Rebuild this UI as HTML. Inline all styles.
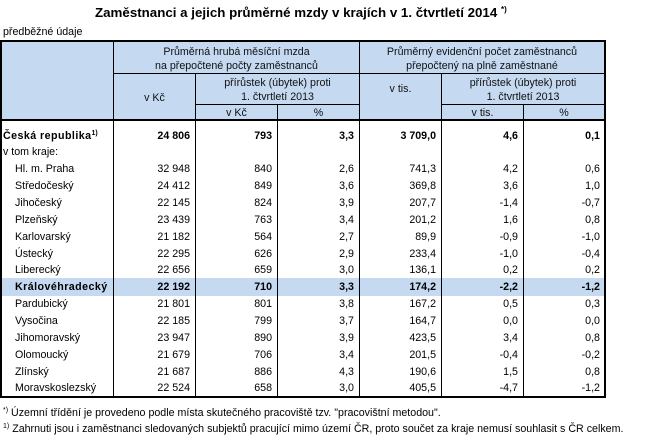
<!DOCTYPE html>
<html><head><meta charset="utf-8">
<style>
*{margin:0;padding:0;box-sizing:border-box}
html,body{width:670px;height:441px;background:#fff;overflow:hidden}
body{position:relative;font-family:"Liberation Sans",Arial,sans-serif;color:#000;font-size:10.67px}
.a{position:absolute;white-space:nowrap}
.l{position:absolute;background:#000}
.hb{position:absolute;background:#C5D9F1}
.hc{position:absolute;text-align:center;line-height:14px;white-space:nowrap;color:#111}
.r{position:absolute;left:0;width:606px;height:17px;line-height:17px}
.r span{position:absolute;top:0;text-align:right;white-space:nowrap}
.r .n{left:3px;text-align:left}
.r .k{left:15px;text-align:left}
.r.b .n,.r.b .k{letter-spacing:0.45px}
.c2{left:113px;width:77px}
.c3{left:195px;width:77px}
.c4{left:277px;width:77px}
.c5{left:359px;width:77px}
.c6{left:441px;width:77px}
.c7{left:523px;width:77px}
.b{font-weight:bold}
sup{font-size:7px;vertical-align:top;position:relative;top:-3px;letter-spacing:0}
</style></head><body>

<div class="a" style="left:95px;top:5px;font-size:13.33px;font-weight:bold;line-height:16px">Zaměstnanci a jejich průměrné mzdy v krajích v 1. čtvrtletí 2014 <span style="font-size:8px;vertical-align:top;position:relative;top:-3px">*)</span></div>
<div class="a" style="left:3px;top:25.5px;line-height:13px">předběžné údaje</div>

<!-- backgrounds -->
<div class="hb" style="left:2px;top:42px;width:602px;height:77px"></div>
<div class="hb" style="left:2px;top:278px;width:602px;height:18px"></div>

<!-- lines -->
<div class="l" style="left:0;top:40px;width:606px;height:2px"></div>
<div class="l" style="left:0;top:396px;width:606px;height:2px"></div>
<div class="l" style="left:0;top:40px;width:2px;height:358px"></div>
<div class="l" style="left:604px;top:40px;width:2px;height:358px"></div>
<div class="l" style="left:0;top:119px;width:606px;height:2px"></div>
<div class="l" style="left:113px;top:73px;width:491px;height:1px"></div>
<div class="l" style="left:195px;top:104px;width:164px;height:1px"></div>
<div class="l" style="left:441px;top:104px;width:163px;height:1px"></div>
<div class="l" style="left:113px;top:42px;width:1px;height:354px"></div>
<div class="l" style="left:195px;top:73px;width:1px;height:323px"></div>
<div class="l" style="left:277px;top:104px;width:1px;height:292px"></div>
<div class="l" style="left:359px;top:42px;width:1px;height:354px"></div>
<div class="l" style="left:441px;top:73px;width:1px;height:323px"></div>
<div class="l" style="left:523px;top:104px;width:1px;height:292px"></div>

<!-- header text -->
<div class="hc" style="left:114px;width:245px;top:45px">Průměrná hrubá měsíční mzda<br>na přepočtené počty zaměstnanců</div>
<div class="hc" style="left:360px;width:244px;top:45px">Průměrný evidenční počet zaměstnanců<br>přepočtený na plně zaměstnané</div>
<div class="hc" style="left:114px;width:81px;top:90.5px">v Kč</div>
<div class="hc" style="left:196px;width:163px;top:75.5px">přírůstek (úbytek) proti<br>1. čtvrtletí 2013</div>
<div class="hc" style="left:196px;width:81px;top:106px">v Kč</div>
<div class="hc" style="left:278px;width:81px;top:106px">%</div>
<div class="hc" style="left:360px;width:81px;top:82px">v tis.</div>
<div class="hc" style="left:442px;width:162px;top:75.5px">přírůstek (úbytek) proti<br>1. čtvrtletí 2013</div>
<div class="hc" style="left:442px;width:81px;top:106px">v tis.</div>
<div class="hc" style="left:524px;width:80px;top:106px">%</div>

<!-- body rows -->
<div class="r b" style="top:128px"><span class="n">Česká republika<sup>1)</sup></span><span class="c2">24 806</span><span class="c3">793</span><span class="c4">3,3</span><span class="c5">3 709,0</span><span class="c6">4,6</span><span class="c7">0,1</span></div>
<div class="r" style="top:143.7px"><span class="n">v tom kraje:</span></div>
<div class="r" style="top:161.3px"><span class="k">Hl. m. Praha</span><span class="c2">32 948</span><span class="c3">840</span><span class="c4">2,6</span><span class="c5">741,3</span><span class="c6">4,2</span><span class="c7">0,6</span></div>
<div class="r" style="top:178.15px"><span class="k">Středočeský</span><span class="c2">24 412</span><span class="c3">849</span><span class="c4">3,6</span><span class="c5">369,8</span><span class="c6">3,6</span><span class="c7">1,0</span></div>
<div class="r" style="top:195px"><span class="k">Jihočeský</span><span class="c2">22 145</span><span class="c3">824</span><span class="c4">3,9</span><span class="c5">207,7</span><span class="c6">-1,4</span><span class="c7">-0,7</span></div>
<div class="r" style="top:211.85px"><span class="k">Plzeňský</span><span class="c2">23 439</span><span class="c3">763</span><span class="c4">3,4</span><span class="c5">201,2</span><span class="c6">1,6</span><span class="c7">0,8</span></div>
<div class="r" style="top:228.7px"><span class="k">Karlovarský</span><span class="c2">21 182</span><span class="c3">564</span><span class="c4">2,7</span><span class="c5">89,9</span><span class="c6">-0,9</span><span class="c7">-1,0</span></div>
<div class="r" style="top:245.55px"><span class="k">Ústecký</span><span class="c2">22 295</span><span class="c3">626</span><span class="c4">2,9</span><span class="c5">233,4</span><span class="c6">-1,0</span><span class="c7">-0,4</span></div>
<div class="r" style="top:262.4px"><span class="k">Liberecký</span><span class="c2">22 656</span><span class="c3">659</span><span class="c4">3,0</span><span class="c5">136,1</span><span class="c6">0,2</span><span class="c7">0,2</span></div>
<div class="r b" style="top:279.25px"><span class="k">Královéhradecký</span><span class="c2">22 192</span><span class="c3">710</span><span class="c4">3,3</span><span class="c5">174,2</span><span class="c6">-2,2</span><span class="c7">-1,2</span></div>
<div class="r" style="top:296.1px"><span class="k">Pardubický</span><span class="c2">21 801</span><span class="c3">801</span><span class="c4">3,8</span><span class="c5">167,2</span><span class="c6">0,5</span><span class="c7">0,3</span></div>
<div class="r" style="top:312.95px"><span class="k">Vysočina</span><span class="c2">22 185</span><span class="c3">799</span><span class="c4">3,7</span><span class="c5">164,7</span><span class="c6">0,0</span><span class="c7">0,0</span></div>
<div class="r" style="top:329.8px"><span class="k">Jihomoravský</span><span class="c2">23 947</span><span class="c3">890</span><span class="c4">3,9</span><span class="c5">423,5</span><span class="c6">3,4</span><span class="c7">0,8</span></div>
<div class="r" style="top:346.65px"><span class="k">Olomoucký</span><span class="c2">21 679</span><span class="c3">706</span><span class="c4">3,4</span><span class="c5">201,5</span><span class="c6">-0,4</span><span class="c7">-0,2</span></div>
<div class="r" style="top:363.5px"><span class="k">Zlínský</span><span class="c2">21 687</span><span class="c3">886</span><span class="c4">4,3</span><span class="c5">190,6</span><span class="c6">1,5</span><span class="c7">0,8</span></div>
<div class="r" style="top:380.35px"><span class="k">Moravskoslezský</span><span class="c2">22 524</span><span class="c3">658</span><span class="c4">3,0</span><span class="c5">405,5</span><span class="c6">-4,7</span><span class="c7">-1,2</span></div>

<!-- footnotes -->
<div class="a" style="left:3px;top:407px;line-height:13px"><sup>*)</sup> Územní třídění je provedeno podle místa skutečného pracoviště tzv. "pracovištní metodou".</div>
<div class="a" style="left:3px;top:423px;line-height:13px"><sup>1)</sup> Zahrnuti jsou i zaměstnanci sledovaných subjektů pracující mimo území ČR, proto součet za kraje nemusí souhlasit s ČR celkem.</div>

</body></html>
